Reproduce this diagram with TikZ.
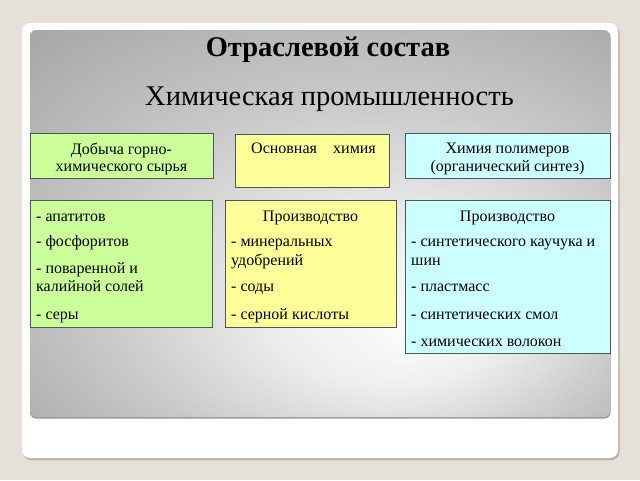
\documentclass[tikz,border=0pt]{standalone}
\usepackage{fontspec}
\setmainfont{Liberation Serif}
\definecolor{bgcol}{RGB}{230,225,216}
\definecolor{grn}{RGB}{204,255,153}
\definecolor{ylw}{RGB}{255,255,153}
\definecolor{cyn}{RGB}{204,255,255}
\definecolor{boxline}{RGB}{70,90,90}
\definecolor{cardshadow}{RGB}{185,180,170}
\definecolor{g0}{RGB}{252,252,252}
\definecolor{g1}{RGB}{238,238,238}
\definecolor{g2}{RGB}{200,200,200}
\definecolor{g3}{RGB}{168,168,168}
\definecolor{g4}{RGB}{158,158,158}
\pgfdeclareradialshading{panelshade}{\pgfpoint{8bp}{-14bp}}{color(0bp)=(g0); color(10bp)=(g1); color(24bp)=(g2); color(38bp)=(g3); color(50bp)=(g4)}
\tikzset{
  box/.style={draw=boxline, line width=0.8pt, inner sep=0pt, anchor=north west},
  txt/.style={font=\fontsize{16}{19}\selectfont, inner sep=0pt, anchor=base west},
  ctxt/.style={font=\fontsize{16}{19}\selectfont, inner sep=0pt, anchor=base},
}
\begin{document}
\begin{tikzpicture}[x=1pt,y=-1pt]
\useasboundingbox (0,0) rectangle (640,480);
\fill[bgcol] (0,0) rectangle (640,480);
% card
\fill[cardshadow, rounded corners=8pt] (23,25) rectangle (619.5,460);
\fill[white, rounded corners=8pt] (22,23) rectangle (618,458);
% panel
\fill[black!40, rounded corners=6pt] (30,31) rectangle (610.5,418.5);
\shade[shading=panelshade, rounded corners=6pt] (30,30) rectangle (610,417);
% titles
\node[font=\fontsize{28.5}{30}\selectfont\bfseries, inner sep=0pt, anchor=base] (title) at (328,56) {Отраслевой состав};
\node[font=\fontsize{28.5}{30}\selectfont, inner sep=0pt, anchor=base] (sub) at (329.5,105) {Химическая промышленность};
% top row
\node[box, fill=grn, minimum width=183pt, minimum height=45pt] (a1) at (30,133) {};
\node[box, fill=ylw, minimum width=154pt, minimum height=53pt] (b1) at (235,134) {};
\node[box, fill=cyn, minimum width=205pt, minimum height=45pt] (c1) at (405,133) {};
\node[ctxt] (a1t1) at (121.5,154) {Добыча горно-};
\node[ctxt] (a1t2) at (121.5,171) {химического сырья};
\node[txt] (b1t1) at (251,153) {Основная};
\node[txt] (b1t2) at (333,153) {химия};
\node[ctxt] (c1t1) at (507.5,153) {Химия полимеров};
\node[ctxt] (c1t2) at (507.5,171) {(органический синтез)};
% bottom row
\node[box, fill=grn, minimum width=182pt, minimum height=127pt] (a2) at (30,200) {};
\node[box, fill=ylw, minimum width=171pt, minimum height=127pt] (b2) at (225,200) {};
\node[box, fill=cyn, minimum width=205pt, minimum height=153pt] (c2) at (405,200) {};
\node[txt] (a2t1) at (36,221.7) {- апатитов};
\node[txt] (a2t2) at (36,246.7) {- фосфоритов};
\node[txt] (a2t3) at (36,273) {- поваренной и};
\node[txt] (a2t4) at (36,291.7) {калийной солей};
\node[txt] (a2t5) at (36,319) {- серы};
\node[ctxt] (b2t0) at (310.5,221.7) {Производство};
\node[txt] (b2t1) at (231,246.7) {- минеральных};
\node[txt] (b2t2) at (231,265) {удобрений};
\node[txt] (b2t3) at (231,291.7) {- соды};
\node[txt] (b2t4) at (231,319) {- серной кислоты};
\node[ctxt] (c2t0) at (507.5,221.7) {Производство};
\node[txt] (c2t1) at (411,246.7) {- синтетического каучука и};
\node[txt] (c2t2) at (411,265) {шин};
\node[txt] (c2t3) at (411,291.7) {- пластмасс};
\node[txt] (c2t4) at (411,319) {- синтетических смол};
\node[txt] (c2t5) at (411,346.7) {- химических волокон};
\end{tikzpicture}
\end{document}
